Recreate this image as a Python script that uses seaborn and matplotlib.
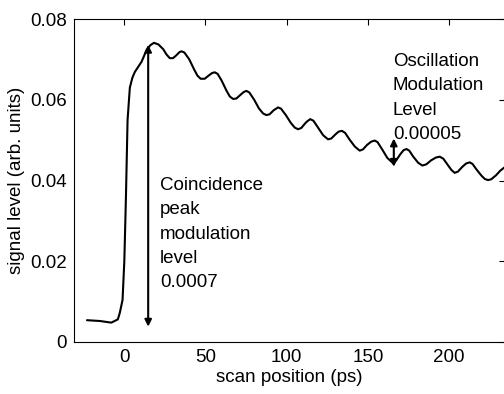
import matplotlib as mpl
mpl.use('Agg')
import matplotlib.pyplot as plt
import numpy as np
import pandas as pd
import seaborn as sns

# values
scan_ps = [-23, -15, -8, -4, -2.8, -1.1, 0, 1, 2, 3.4, 5, 6.5, 10.6, 13.7, 16, 18.2,
           21, 24, 26, 28, 30, 32, 34, 35.2, 37, 40, 43, 45, 47, 49.5, 52, 54, 55.7,
           57.5, 60, 63, 65, 67, 69, 71.5, 73.5, 75.2, 77, 80, 83, 85.5, 87.5, 89.5,
           92, 94.7, 96.5, 99.5, 102.5, 105, 107, 109, 111.5, 112.5, 114.5, 116.5,
           119.5, 122.5, 125.5, 127.5, 130, 132, 134, 136, 139, 142, 145, 147,
           149.5, 152, 154.2, 156, 159, 162, 165.5, 167.5, 170, 172, 173.8, 175.5,
           178, 181, 183.6, 186, 189, 192, 194.3, 196.5, 199, 201.5, 203.5, 205.5,
           208, 210.5, 212.7, 214.5, 217, 220, 222, 224, 226, 229, 231.5, 234]
signal = [0.0054, 0.0052, 0.0048, 0.0056, 0.0072, 0.0104, 0.02, 0.036, 0.055, 0.063,
          0.0655, 0.0669, 0.0694, 0.0723, 0.0735, 0.0741,
          0.0737, 0.0725, 0.0712, 0.0703, 0.0703, 0.0710, 0.0718, 0.0720, 0.0717,
          0.0700, 0.0675, 0.0660, 0.0652, 0.0652, 0.0660, 0.0666, 0.0668,
          0.0664, 0.0647, 0.0622, 0.0608, 0.0602, 0.0603, 0.0612, 0.0619, 0.0622,
          0.0618, 0.0600, 0.0578, 0.0566, 0.0562, 0.0564,
          0.0574, 0.0581, 0.0578, 0.0562, 0.0543, 0.0531, 0.0527, 0.0530, 0.0542,
          0.0546, 0.0552, 0.0548,
          0.0530, 0.0512, 0.0502, 0.0504, 0.0514, 0.0521, 0.0523, 0.0518, 0.0500,
          0.0484, 0.0474, 0.0477,
          0.0488, 0.0496, 0.0499, 0.0495, 0.0476, 0.0456, 0.0443, 0.0450, 0.0465,
          0.0475, 0.0478, 0.0474,
          0.0459, 0.0444, 0.0437, 0.0440, 0.0450, 0.0457, 0.0459, 0.0454, 0.0440,
          0.0426, 0.0419, 0.0422,
          0.0433, 0.0442, 0.0445, 0.0441, 0.0427, 0.0412, 0.0404, 0.0401, 0.0403,
          0.0413, 0.0424, 0.0432]

x_ticks = [0, 50, 100, 150, 200]
y_ticks = [0, 0.02, 0.04, 0.06, 0.08]
y_ticklabels = ['0', '0.02', '0.04', '0.06', '0.08']

peak_arrow = (14.7, 0.0038, 0.0736)
osc_arrow = (166, 0.0434, 0.0504)
peak_text = 'Coincidence\npeak\nmodulation\nlevel\n0.0007'
osc_text = 'Oscillation\nModulation\nLevel\n0.00005'

sns.set_style('white')
plt.rcParams['font.family'] = ['Liberation Sans', 'DejaVu Sans']
plt.rcParams['font.size'] = 13.5
for key in ['text.color', 'axes.labelcolor', 'xtick.color', 'ytick.color']:
    plt.rcParams[key] = 'black'

df = pd.DataFrame({'scan': scan_ps, 'signal': signal})

fig = plt.figure(figsize=(5.04, 3.94), dpi=100)
ax = fig.add_axes([74 / 504, 52 / 394, 431 / 504, 323 / 394])

sns.lineplot(data=df, x='scan', y='signal', color='black', linewidth=1.5, ax=ax)

ax.set_xlim(-31, 234.5)
ax.set_ylim(0, 0.08)
ax.set_xticks(x_ticks)
ax.set_yticks(y_ticks)
ax.set_yticklabels(y_ticklabels)
ax.tick_params(direction='in', length=4, width=0.8, color='black',
               top=True, right=True, labelsize=13.5, pad=5)
for s in ax.spines.values():
    s.set_color('black')
    s.set_linewidth(0.8)

ax.set_xlabel('scan position (ps)', fontsize=13.5, labelpad=2)
ax.set_ylabel('signal level (arb. units)', fontsize=13.5, labelpad=4)

# double headed arrows
arrow_kw = dict(arrowstyle='<|-|>', color='black', lw=1.5,
                mutation_scale=10, shrinkA=0, shrinkB=0)
ax.annotate('', xy=(peak_arrow[0], peak_arrow[2]), xytext=(peak_arrow[0], peak_arrow[1]),
            arrowprops=arrow_kw)
ax.annotate('', xy=(osc_arrow[0], osc_arrow[2]), xytext=(osc_arrow[0], osc_arrow[1]),
            arrowprops=arrow_kw)

ax.text(22, 0.0408, peak_text, ha='left', va='top', fontsize=13.5, linespacing=1.55)
ax.text(165.5, 0.0715, osc_text, ha='left', va='top', fontsize=13.5, linespacing=1.55)

fig.savefig('out.png', dpi=100)
